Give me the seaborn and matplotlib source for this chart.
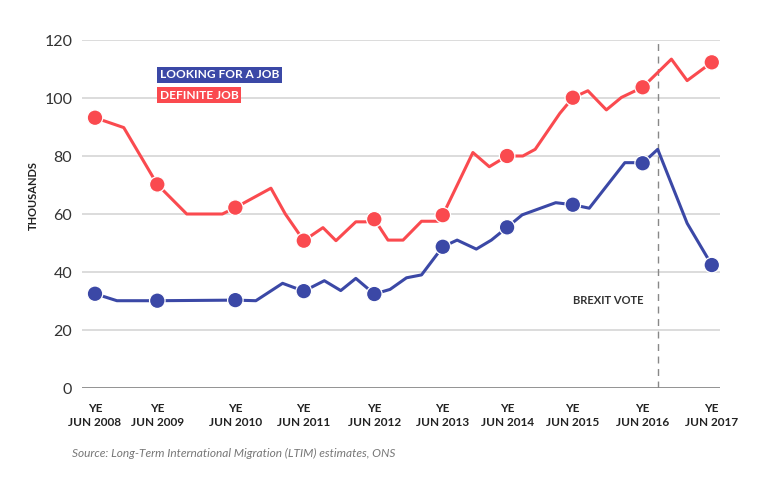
import numpy as np
import pandas as pd
import matplotlib
matplotlib.use("Agg")
import matplotlib.pyplot as plt
import seaborn as sns

# ---- data (x in fractional years) ----
definite_x = [2008.00, 2008.42, 2008.91, 2009.34, 2009.86, 2010.05, 2010.57, 2010.78,
              2011.05, 2011.33, 2011.52, 2011.81, 2011.96, 2012.08, 2012.28, 2012.50,
              2012.77, 2013.01, 2013.08, 2013.52, 2013.76, 2014.02, 2014.25, 2014.43,
              2014.79, 2014.98, 2015.20, 2015.47, 2015.69, 2016.00, 2016.42, 2016.65,
              2017.01]
definite_y = [93.2, 89.8, 70.2, 60.0, 60.0, 62.2, 68.9, 60.0,
              50.8, 55.3, 50.8, 57.3, 57.3, 58.2, 51.0, 51.0,
              57.5, 57.5, 59.6, 81.2, 76.3, 80.0, 80.0, 82.3,
              94.7, 100.1, 102.5, 95.9, 100.2, 103.7, 113.4, 106.0,
              112.3]
looking_x = [2008.00, 2008.32, 2008.91, 2010.05, 2010.35, 2010.74, 2011.05, 2011.35,
             2011.59, 2011.81, 2012.08, 2012.31, 2012.55, 2012.77, 2013.08, 2013.29,
             2013.57, 2013.79, 2014.02, 2014.24, 2014.73, 2014.98, 2015.22, 2015.74,
             2015.88, 2016.00, 2016.22, 2016.65, 2017.01]
looking_y = [32.5, 30.1, 30.1, 30.3, 30.1, 36.1, 33.4, 37.0,
             33.6, 37.8, 32.4, 34.0, 38.0, 39.0, 48.7, 51.0,
             47.9, 51.0, 55.4, 59.7, 63.9, 63.2, 62.0, 77.7,
             77.7, 77.5, 82.3, 56.8, 42.4]
tick_x = [2008.00, 2008.91, 2010.05, 2011.05, 2012.08, 2013.08, 2014.02, 2014.98, 2016.00, 2017.01]
tick_labels = ["YE\nJUN 2008", "YE\nJUN 2009", "YE\nJUN 2010", "YE\nJUN 2011", "YE\nJUN 2012",
               "YE\nJUN 2013", "YE\nJUN 2014", "YE\nJUN 2015", "YE\nJUN 2016", "YE\nJUN 2017"]
y_ticks = [0, 20, 40, 60, 80, 100, 120]
brexit_x = 2016.23
series_names = ["LOOKING FOR A JOB", "DEFINITE JOB"]

RED = "#FA4A4F"
BLUE = "#3B48A6"

sns.set_theme(style="white")
plt.rcParams["font.family"] = ["Lato", "DejaVu Sans"]

df = pd.concat([
    pd.DataFrame({"x": looking_x, "y": looking_y, "series": series_names[0]}),
    pd.DataFrame({"x": definite_x, "y": definite_y, "series": series_names[1]}),
], ignore_index=True)
df["marker"] = np.isin(np.round(df["x"], 2), np.round(tick_x, 2))
palette = {series_names[0]: BLUE, series_names[1]: RED}

fig = plt.figure(figsize=(7.6, 4.86), dpi=100)
ax = fig.add_axes([82 / 760, 1 - 388 / 486, (720 - 82) / 760, (388 - 40) / 486])

for yv in y_ticks[1:]:
    ax.axhline(yv, color="#d6d6d6", lw=1.2, zorder=0)
ax.axhline(0, color="#8a8a8a", lw=1.3, zorder=0)

sns.lineplot(data=df, x="x", y="y", hue="series", palette=palette, lw=2.2,
             legend=False, ax=ax, zorder=3, sort=False, estimator=None)
sns.scatterplot(data=df[df["marker"]], x="x", y="y", hue="series", palette=palette,
                s=125, edgecolor="white", linewidth=0.9, legend=False, ax=ax, zorder=4)

ax.axvline(brexit_x, color="#888888", lw=1.0, ls=(0, (5, 4)), zorder=1)
ax.text(brexit_x - 0.22, 30.1, "BREXIT VOTE", ha="right", va="center",
        fontsize=8, fontweight="bold", color="#333333")

ax.set_xlim(2007.81, 2017.13)
ax.set_ylim(0, 120)
ax.set_yticks(y_ticks)
ax.set_yticklabels([str(v) for v in y_ticks], fontsize=11.5, color="#333333")
ax.set_xticks(tick_x)
ax.set_xticklabels(tick_labels, fontsize=8.5, fontweight="bold", color="#222222",
                   linespacing=1.25)
ax.tick_params(axis="y", length=0, pad=7)
ax.tick_params(axis="x", length=0, pad=11)
ax.set_xlabel("")
ax.set_ylabel("")
for s in ax.spines.values():
    s.set_visible(False)
ax.grid(False)

fig.text(33 / 760, 1 - 195 / 486, "THOUSANDS", rotation=90, ha="center", va="center",
         fontsize=8, fontweight="bold", color="#222222")

fig.text(160 / 760, 1 - 75 / 486, series_names[0], ha="left", va="center", fontsize=8.6,
         fontweight="bold", color="white",
         bbox=dict(boxstyle="square,pad=0.22", fc=BLUE, ec="none"))
fig.text(160 / 760, 1 - 95 / 486, series_names[1], ha="left", va="center", fontsize=8.6,
         fontweight="bold", color="white",
         bbox=dict(boxstyle="square,pad=0.22", fc=RED, ec="none"))

fig.text(72 / 760, 1 - 453 / 486, "Source: Long-Term International Migration (LTIM) estimates, ONS",
         ha="left", va="center", fontsize=8.6, style="italic", color="#777777")

fig.savefig("out.png", dpi=100)
